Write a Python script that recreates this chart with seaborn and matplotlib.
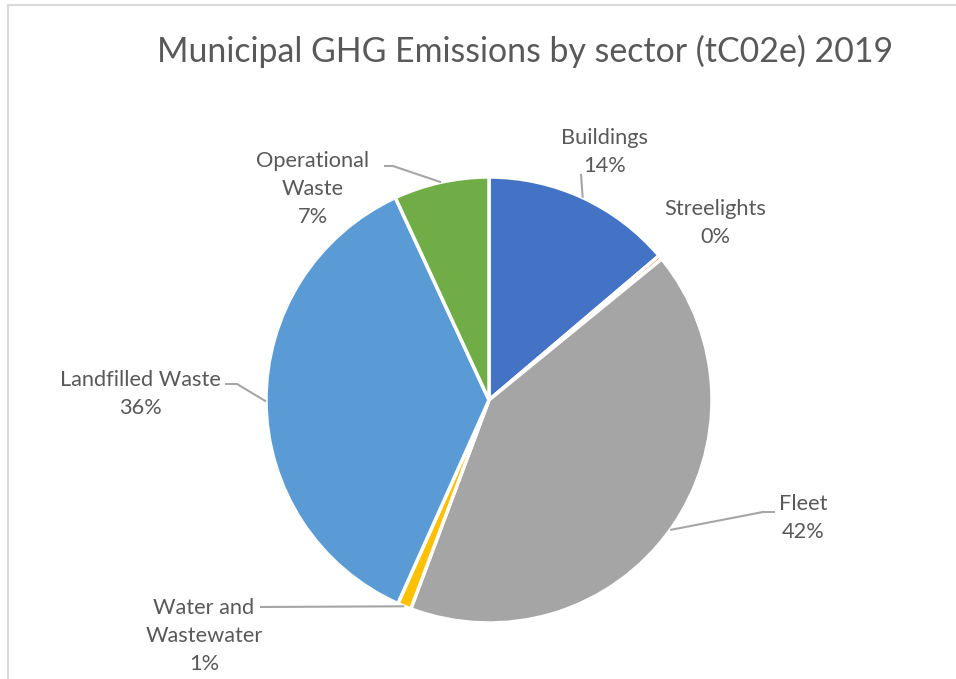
import numpy as np
import matplotlib
matplotlib.use("Agg")
import matplotlib.pyplot as plt
import seaborn as sns

# data (share of total, %)
sectors = ["Buildings", "Streelights", "Fleet", "Water and\nWastewater",
           "Landfilled Waste", "Operational\nWaste"]
shares = [13.8, 0.3, 41.6, 1.0, 36.4, 6.9]
pct_labels = ["14%", "0%", "42%", "1%", "36%", "7%"]
colors = ["#4472C4", "#ED7D31", "#A5A5A5", "#FFC000", "#5B9BD5", "#70AD47"]

# label layout in pixel coords (x, y from top)
label_pos = [(605, 152), (715, 223), (803, 518), (204, 636), (140, 394), (313, 189)]
# elbow of leader line, None = no leader
elbows = [[(581, 174)], None, [(763, 512), (775, 512)], [(260, 607)],
          [(237, 384), (225, 384)], [(393, 166), (384, 166)]]

W, H = 956, 679
sns.set_style("white")
plt.rcParams["font.family"] = ["Lato", "DejaVu Sans"]
text_color = "#595959"

fig = plt.figure(figsize=(W / 100, H / 100), dpi=100)
ax = fig.add_axes([0, 0, 1, 1])

cx, cy, r = 489, H - 400, 223
wedges, _ = ax.pie(shares, colors=colors, startangle=90, counterclock=False,
                   center=(cx, cy), radius=r,
                   wedgeprops=dict(edgecolor="white", linewidth=2.5))
ax.set_xlim(0, W)
ax.set_ylim(0, H)
ax.set_aspect("equal")
ax.axis("off")

for i, w in enumerate(wedges):
    tx, ty = label_pos[i]
    ax.text(tx, H - ty, f"{sectors[i]}\n{pct_labels[i]}", ha="center", va="center",
            fontsize=15.7, color=text_color, linespacing=1.5)
    if elbows[i] is None:
        continue
    mid = np.deg2rad((w.theta1 + w.theta2) / 2)
    px, py = cx + r * np.cos(mid), cy + r * np.sin(mid)
    xs = [px] + [e[0] for e in elbows[i]]
    ys = [py] + [H - e[1] for e in elbows[i]]
    ax.plot(xs, ys, color="#A6A6A6", lw=1.5, solid_capstyle="butt")

fig.text(525 / W, 1 - 51 / H, "Municipal GHG Emissions by sector (tC02e) 2019",
         ha="center", va="center", fontsize=24.4, color=text_color)

# chart frame (only top and left edges visible in the crop)
ax.plot([8, W], [H - 5, H - 5], color="#D9D9D9", lw=1.5)
ax.plot([8, 8], [H - 5, 0], color="#D9D9D9", lw=1.5)

fig.savefig("out.png", dpi=100, facecolor="white")
